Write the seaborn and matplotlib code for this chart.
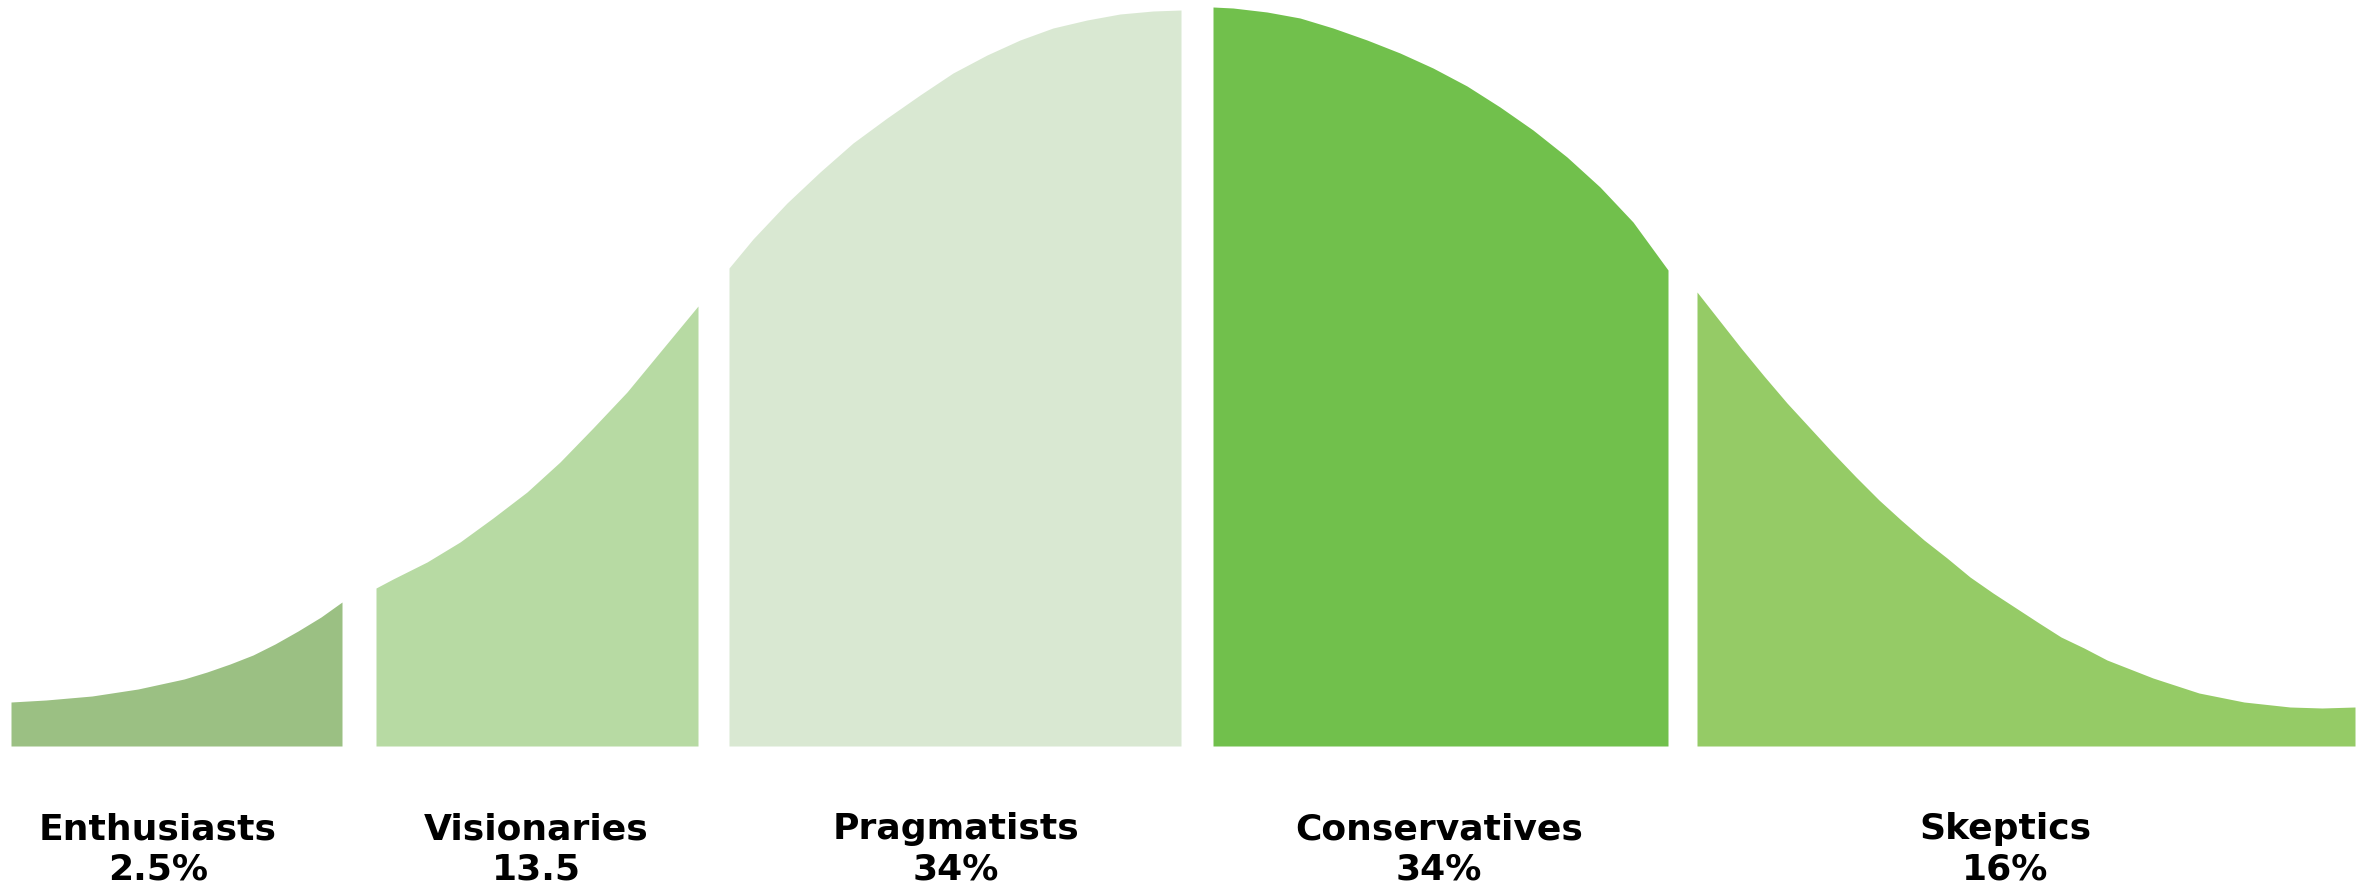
import numpy as np
import matplotlib
matplotlib.use("Agg")
import matplotlib.pyplot as plt
import seaborn as sns

# Segment names and shares (as printed on the chart)
names = ["Enthusiasts", "Visionaries", "Pragmatists", "Conservatives", "Skeptics"]
shares = ["2.5%", "13.5", "34%", "34%", "16%"]
colors = ["#9BC083", "#B7DAA3", "#D9E8D2", "#71C04C", "#95CB66"]

# Curve outline for each segment (x along the axis, height above baseline)
seg1_x = [11, 46, 92, 138, 184, 207, 230, 253, 275, 298, 321, 342]
seg1_h = [44, 46, 50, 57, 67, 74, 82, 91, 102, 115, 129, 144]

seg2_x = [376, 393, 427, 460, 493, 527, 560, 593, 627, 660, 698]
seg2_h = [158, 167, 184, 204, 228, 254, 284, 318, 354, 394, 440]

seg3_x = [729, 753, 787, 820, 853, 887, 920, 953, 987, 1020, 1053, 1087, 1120, 1153, 1181]
seg3_h = [478, 507, 543, 574, 603, 628, 651, 673, 691, 706, 718, 726, 732, 735, 736]

seg4_x = [1213, 1233, 1267, 1300, 1333, 1367, 1400, 1433, 1467, 1500, 1533, 1567, 1600, 1633, 1668]
seg4_h = [739, 738, 734, 728, 718, 706, 693, 678, 660, 639, 616, 589, 559, 524, 476]

seg5_x = [1697, 1719, 1741, 1764, 1787, 1810, 1833, 1856, 1879, 1901, 1924, 1947, 1970,
          1993, 2016, 2039, 2061, 2084, 2107, 2153, 2199, 2244, 2290, 2322, 2355]
seg5_h = [454, 426, 398, 370, 343, 318, 293, 269, 246, 226, 206, 188, 169,
          153, 138, 123, 109, 98, 86, 68, 53, 44, 39, 38, 39]

segments = [(seg1_x, seg1_h), (seg2_x, seg2_h), (seg3_x, seg3_h), (seg4_x, seg4_h), (seg5_x, seg5_h)]

# where each caption sits under its segment
label_x = [158, 536, 956, 1439, 2005]

sns.set_theme(style="white")
plt.rcParams['font.family'] = ['DejaVu Sans']

fig = plt.figure(figsize=(23.67, 8.84), dpi=100)
ax = fig.add_axes([0, 0, 1, 1])

for (xs, hs), color, name, share, lx in zip(segments, colors, names, shares, label_x):
    ax.fill_between(xs, 0, hs, color=color, linewidth=0)
    ax.text(lx, -93, name, ha="center", va="baseline", fontsize=26, fontweight="bold", color="black")
    ax.text(lx, -133, share, ha="center", va="baseline", fontsize=26, fontweight="bold", color="black")

ax.set_xlim(0, 2367)
ax.set_ylim(-138, 746)
ax.axis("off")
sns.despine(left=True, bottom=True)

plt.savefig("out.png", dpi=100, facecolor="white")
